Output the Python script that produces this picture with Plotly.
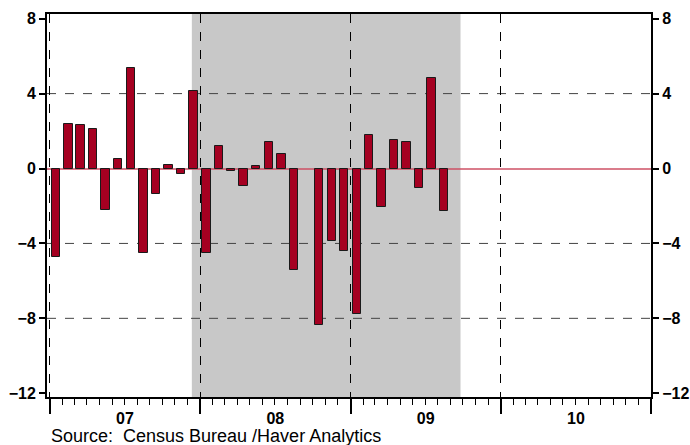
import plotly.graph_objects as go

months = [
    "2007-01-01", "2007-02-01", "2007-03-01", "2007-04-01", "2007-05-01", "2007-06-01",
    "2007-07-01", "2007-08-01", "2007-09-01", "2007-10-01", "2007-11-01", "2007-12-01",
    "2008-01-01", "2008-02-01", "2008-03-01", "2008-04-01", "2008-05-01", "2008-06-01",
    "2008-07-01", "2008-08-01", "2008-09-01", "2008-10-01", "2008-11-01", "2008-12-01",
    "2009-01-01", "2009-02-01", "2009-03-01", "2009-04-01", "2009-05-01", "2009-06-01",
    "2009-07-01", "2009-08-01",
]
values = [
    -4.75, 2.36, 2.31, 2.12, -2.19, 0.52, 5.39, -4.50, -1.35, 0.21, -0.27, 4.16,
    -4.53, 1.21, -0.12, -0.91, 0.12, 1.42, 0.80, -5.40, None, -8.37, -3.88, -4.43,
    -7.77, 1.78, -2.08, 1.51, 1.42, -1.05, 4.82, -2.28,
]
y_ticks = [-12, -8, -4, 0, 4, 8]
grid_levels = [-8, -4, 4]
recession = ("2007-12-12", "2009-09-25")
x_range = ["2006-12-25", "2011-01-01"]
y_range = [-12.2, 8.25]
source_text = "Source:  Census Bureau /Haver Analytics"

bar_width_ms = 20.5 * 24 * 3600 * 1000

fig = go.Figure()
fig.add_trace(go.Bar(
    x=months, y=values, xperiod="M1", xperiodalignment="middle",
    width=bar_width_ms,
    marker=dict(color="#a50021", line=dict(color="#1a1a1a", width=1)),
    showlegend=False, hoverinfo="x+y",
))
fig.add_trace(go.Scatter(
    x=months, y=values, yaxis="y2", mode="markers",
    marker=dict(opacity=0), showlegend=False, hoverinfo="skip",
))

fig.add_shape(type="rect", xref="x", yref="paper", x0=recession[0], x1=recession[1],
              y0=0, y1=1, fillcolor="#c8c8c8", line=dict(width=0), layer="below")
for lv in grid_levels:
    fig.add_shape(type="line", xref="paper", yref="y", x0=0, x1=1, y0=lv, y1=lv,
                  line=dict(color="#444444", width=1, dash="dash"), layer="below")

tickfont = dict(family="Liberation Sans", size=16, color="black", weight=700)

fig.update_layout(
    width=690, height=445,
    margin=dict(l=47, r=39, t=14, b=48, autoexpand=False),
    paper_bgcolor="white", plot_bgcolor="white",
    bargap=0,
    xaxis=dict(
        type="date", range=x_range, tick0="2007-01-01", dtick="M12",
        ticklabelmode="period", tickformat="%y", automargin=False,
        ticks="outside", ticklen=15, tickwidth=1.5, tickcolor="black",
        ticklabelstandoff=-9,
        tickfont=tickfont,
        showgrid=True, gridcolor="black", gridwidth=1, griddash="dash",
        minor=dict(dtick="M1", ticks="outside", ticklen=6, tickwidth=1,
                   tickcolor="black", showgrid=False),
        showline=True, linecolor="black", linewidth=2, mirror=True,
        zeroline=False,
    ),
    yaxis=dict(
        range=y_range, tickvals=y_ticks, ticks="outside", ticklen=6,
        tickwidth=1.5, tickcolor="black", tickfont=tickfont, automargin=False,
        showgrid=False, showline=True, linecolor="black", linewidth=2,
        zeroline=True, zerolinecolor="rgba(205,80,100,0.75)", zerolinewidth=2,
    ),
    yaxis2=dict(
        range=y_range, tickvals=y_ticks, overlaying="y", side="right",
        ticks="outside", ticklen=6, tickwidth=1.5, tickcolor="black",
        tickfont=tickfont, showgrid=False, showline=True, linecolor="black",
        linewidth=2, zeroline=False, automargin=False,
    ),
    annotations=[dict(
        text=source_text, xref="paper", yref="paper", x=0.004, y=-0.102,
        xanchor="left", yanchor="middle", showarrow=False,
        font=dict(family="Liberation Sans Narrow, Arial Narrow, Liberation Sans", size=18, color="black"),
    )],
)

fig.write_html(
    "out.html",
    config={"displayModeBar": False},
    post_script="document.body.style.margin='0';document.body.style.overflow='hidden';",
)
